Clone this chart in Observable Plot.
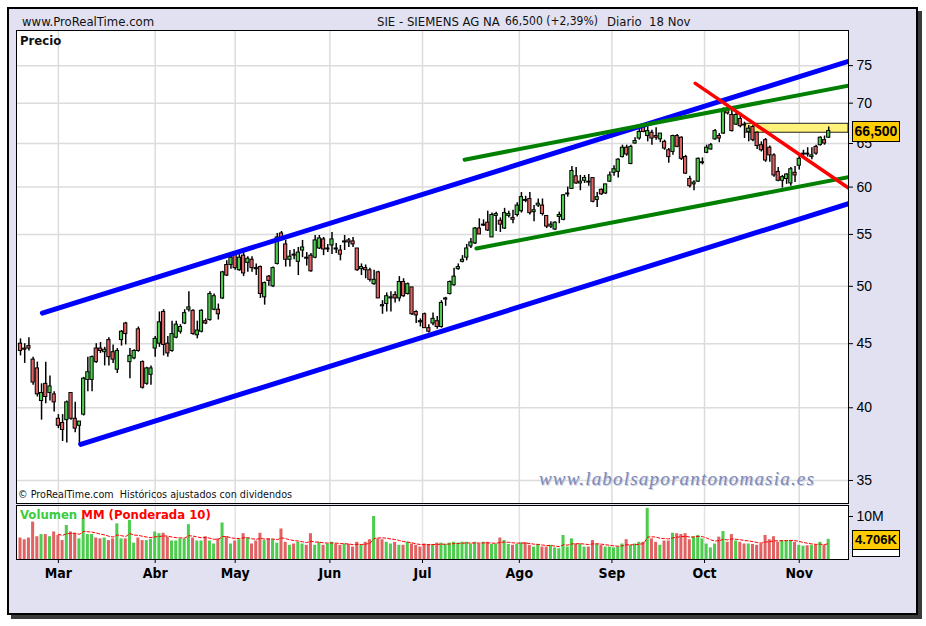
<!DOCTYPE html>
<html>
<head>
<meta charset="utf-8">
<script src="https://cdn.jsdelivr.net/npm/d3@7"></script>
<script src="https://cdn.jsdelivr.net/npm/@observablehq/plot@0.6"></script>
<style>
  html, body { margin: 0; padding: 0; background: #fff; }
  #root { position: relative; width: 926px; height: 626px; overflow: hidden; background: #fff;
          font-family: 'Liberation Sans Narrow', 'Arial Narrow', 'DejaVu Sans Condensed', 'Liberation Sans', sans-serif; }
  #frame { position: absolute; left: 7px; top: 7px; width: 907px; height: 604px; border: 2px solid #000;
           background: #e1e1f2; box-shadow: 4px 4px 0 #3a3a3a; }
  .abs { position: absolute; white-space: pre; }
  #price, #vol { position: absolute; left: 16px; }
  #price { top: 30px; }
  #vol { top: 505px; }
  svg text { font-family: 'Liberation Sans', Arial, sans-serif; }
  #vol g[aria-label="x-axis tick label"] text { font-weight: bold;
      font-family: 'Liberation Sans Narrow', 'Arial Narrow', 'DejaVu Sans Condensed', 'Liberation Sans', sans-serif; }
  .box { position: absolute; border: 1px solid #000; font-weight: bold; font-family: 'Liberation Sans', Arial, sans-serif;
         text-align: center; background: #ffcc00; }
</style>
</head>
<body>
<div id="root">
  <div id="frame"></div>
  <div class="abs" style="left:22px;top:14px;font-size:13px;color:#111">www.ProRealTime.com</div>
  <div class="abs" style="left:377px;top:14px;font-size:13px;color:#111">SIE - SIEMENS AG NA</div>
  <div class="abs" style="left:505px;top:14px;font-size:12px;color:#111">66,500 (+2,39%)</div>
  <div class="abs" style="left:607px;top:14px;font-size:13px;color:#111">Diario  18 Nov</div>
  <div id="price"></div>
  <div id="vol"></div>
  <div class="abs" style="left:20px;top:33px;font-size:13px;font-weight:bold;color:#111">Precio</div>
  <div class="abs" style="left:18px;top:488px;font-size:10.7px;color:#111">© ProRealTime.com  Históricos ajustados con dividendos</div>
  <div class="abs" style="left:539px;top:468px;font-size:19px;font-style:italic;font-family:'Liberation Serif','DejaVu Serif',serif;letter-spacing:1.2px;color:#8088b4;text-shadow:1px 1px 0 #c9cde2">www.labolsaporantonomasia.es</div>
  <div class="abs" style="left:20px;top:507px;font-size:13px;font-weight:bold"><span style="color:#3ccc3c">Volumen</span> <span style="color:#ff0000">MM (Ponderada 10)</span></div>
  <div id="lastPrice" class="box" style="left:852px;top:121px;width:46px;height:19px;line-height:19px;font-size:14px"></div>
  <div id="lastVol" class="box" style="left:852px;top:530px;width:46px;height:18px;line-height:18px;font-size:13px"></div>
  <div class="box" style="left:852px;top:549px;width:46px;height:6px;background:#fff"></div>
</div>
<script>
// ---- Daily OHLC, SIE (Siemens AG NA), Feb-Nov ----
const open  = [45.0,44.6,44.8,43.7,43.0,40.5,41.8,41.1,41.0,39.2,38.9,39.1,41.1,39.2,38.7,39.5,42.1,42.1,44.6,44.6,
               44.3,45.3,44.3,42.9,45.3,46.7,43.5,43.8,46.2,43.5,41.8,42.5,44.6,45.0,47.7,45.0,44.4,45.5,46.0,46.7,
               47.9,47.8,45.7,46.0,46.9,47.0,47.9,47.9,48.9,52.0,52.0,53.1,51.5,52.9,52.2,52.5,51.7,51.8,49.0,50.9,
               50.0,52.1,55.1,54.0,52.5,53.0,52.3,53.4,52.7,52.9,52.7,53.6,54.5,53.5,53.9,53.6,53.4,54.2,54.4,54.3,
               53.6,51.6,51.7,51.5,50.2,51.3,48.3,48.4,48.9,49.2,48.9,50.4,49.3,49.9,47.7,46.9,47.5,46.3,46.7,46.9,
               46.4,48.8,49.3,50.1,51.6,52.3,52.7,53.8,54.1,55.6,55.9,56.2,54.7,56.9,56.4,55.6,56.9,56.7,57.0,57.4,
               58.6,58.7,57.3,58.0,58.0,56.9,55.8,55.5,56.8,56.5,59.2,59.8,61.2,60.4,60.7,60.6,61.0,58.6,59.7,59.3,
               60.6,61.6,61.7,63.4,64.5,62.6,65.0,65.6,67.0,65.9,66.3,65.9,65.5,65.2,64.2,64.0,65.9,65.7,63.4,60.9,
               60.3,60.6,62.7,63.9,64.3,65.5,65.9,66.2,69.2,68.5,67.3,68.0,67.3,66.4,67.0,66.3,64.8,65.4,64.5,63.6,
               61.7,60.7,60.9,60.4,61.6,62.4,63.7,63.8,63.4,64.6,64.8,65.4,65.7];
const high  = [45.4,45.0,45.5,43.9,43.5,41.8,43.5,42.4,41.2,39.5,39.5,40.5,41.1,40.4,39.0,42.3,43.9,44.0,45.0,45.1,
               44.7,45.5,44.9,44.6,46.1,46.8,44.6,44.5,46.4,43.6,43.1,43.2,45.6,47.7,47.9,45.6,46.9,46.9,46.6,47.9,
               49.5,47.9,46.9,47.9,47.1,49.5,49.3,48.4,51.4,52.4,52.9,53.3,53.0,53.2,52.8,52.8,52.1,51.9,50.4,51.0,
               51.8,55.1,55.3,54.4,53.4,53.5,53.7,54.4,53.2,53.1,54.9,54.9,54.7,54.0,55.2,54.1,53.9,54.9,54.6,54.7,
               53.6,52.1,52.0,51.7,51.5,51.4,48.7,49.4,49.5,49.5,50.9,50.7,50.3,49.9,47.8,47.1,47.6,46.6,47.6,47.3,
               48.7,49.0,50.5,51.7,52.1,52.9,54.0,54.6,55.7,56.6,56.5,57.4,57.2,57.3,56.7,57.7,57.4,57.5,58.3,59.4,
               59.0,59.4,58.0,58.7,58.7,56.9,56.3,56.3,57.3,59.2,60.0,62.3,62.2,61.3,61.3,61.4,61.0,59.4,59.8,60.3,
               61.7,62.4,63.2,64.8,64.8,64.8,65.7,66.7,67.3,67.0,66.6,66.9,66.2,65.4,64.4,66.0,66.1,65.8,63.6,61.2,
               60.7,63.3,63.3,64.8,65.0,66.7,66.2,69.4,69.6,69.1,68.7,68.7,67.6,67.2,67.2,66.4,65.2,65.6,64.7,63.8,
               62.2,61.3,61.5,62.2,62.3,63.6,64.2,64.5,64.5,64.8,65.8,65.9,67.0];
const low   = [44.0,43.4,44.4,41.7,40.8,39.1,40.3,40.5,39.7,38.5,37.6,37.5,39.1,38.2,37.4,39.4,41.2,41.2,43.4,44.2,
               43.2,43.2,43.4,42.6,44.8,44.9,42.2,43.7,44.3,41.4,41.7,41.7,43.9,44.7,44.0,43.9,44.3,45.4,45.8,46.6,
               47.7,45.7,45.4,45.9,46.6,46.9,47.8,47.0,48.8,50.9,51.6,51.5,51.4,50.9,51.3,51.3,51.0,48.9,48.3,50.0,
               49.9,52.0,54.4,51.8,51.8,52.5,51.0,52.7,51.9,51.3,52.6,53.5,52.9,53.2,53.0,53.1,52.4,53.4,53.7,53.7,
               51.4,51.0,50.7,50.4,50.1,48.9,47.5,47.7,47.7,48.5,48.6,49.0,49.2,47.4,46.7,46.4,46.3,45.9,46.5,46.2,
               46.3,48.2,49.2,50.0,51.5,52.2,52.4,53.6,54.0,55.0,55.8,55.3,54.7,55.3,55.2,55.5,56.7,56.1,56.8,57.2,
               58.3,57.0,56.3,57.8,56.9,55.6,55.6,55.4,56.1,56.4,58.9,59.8,60.3,59.6,60.4,60.1,58.3,57.8,59.1,59.2,
               60.5,61.2,61.0,63.3,63.5,62.5,64.9,65.4,66.3,65.2,64.8,65.4,65.1,64.2,62.7,63.6,64.5,63.0,61.4,59.9,
               59.6,60.5,62.5,63.8,64.2,65.4,65.1,66.1,68.5,66.4,67.2,66.9,65.6,65.2,65.2,64.3,64.0,62.8,62.8,61.1,
               60.6,59.9,60.3,60.1,60.5,61.9,63.4,63.4,63.1,63.6,64.7,64.8,65.6];
const close = [44.4,44.5,44.6,41.9,41.0,41.1,40.8,41.6,40.4,38.7,38.4,40.4,39.2,38.5,39.0,42.2,42.7,43.9,43.5,44.4,
               44.5,43.9,43.7,44.4,46.0,45.8,44.0,44.4,44.4,41.5,43.0,43.0,45.4,46.8,44.9,44.2,45.8,46.6,46.4,47.6,
               48.1,45.8,46.1,47.8,46.7,49.3,49.1,47.5,51.3,51.0,52.7,51.7,52.7,51.2,52.6,51.7,51.6,49.3,50.3,50.5,
               51.7,54.7,54.6,52.5,52.8,52.9,53.2,53.7,52.6,51.4,54.4,54.6,53.5,53.6,54.5,53.5,53.0,54.3,54.2,54.0,
               51.5,51.8,51.5,50.6,50.6,48.9,48.2,49.1,49.0,48.9,50.4,49.1,50.2,47.5,47.4,46.8,46.3,46.0,47.1,46.4,
               48.5,48.9,50.4,50.9,51.8,52.5,53.6,54.2,55.6,55.0,56.0,55.4,57.0,57.1,56.0,57.2,57.1,56.5,58.0,58.9,
               58.5,57.2,57.5,58.2,57.1,55.8,56.0,56.2,57.0,59.1,59.3,61.8,60.4,60.6,61.0,60.5,58.4,58.9,59.2,60.3,
               61.3,62.0,63.1,64.5,63.7,64.6,65.3,66.4,66.4,66.5,65.6,65.7,66.2,64.4,63.4,65.9,64.6,63.2,61.5,60.1,
               60.5,63.2,62.8,64.5,64.8,66.5,65.6,69.1,68.7,66.5,68.5,67.1,67.2,66.8,65.4,64.7,64.2,63.0,63.6,61.3,
               60.7,61.1,61.4,62.0,61.3,63.2,63.8,63.7,63.6,63.8,65.7,65.0,66.5];
// Volume in millions of shares
const volume = [5.0,4.6,5.0,8.7,5.3,5.8,5.8,5.3,6.4,5.6,4.4,7.9,6.4,6.1,4.8,9.5,5.8,5.8,5.0,4.8,
                5.0,4.4,4.8,8.3,4.8,4.8,9.1,3.8,5.0,4.4,4.4,4.7,6.4,6.0,6.1,5.2,4.3,4.3,4.8,4.8,
                8.1,5.0,4.3,4.3,5.3,4.3,3.6,4.8,8.5,5.3,3.6,4.3,4.6,6.0,5.0,3.6,4.3,6.1,4.4,4.8,
                4.6,3.8,7.1,4.0,3.3,3.6,4.0,3.6,3.3,6.0,3.3,4.0,3.3,3.6,4.0,3.6,3.3,3.6,3.5,2.9,
                4.0,3.3,4.0,4.6,10.0,4.8,4.6,4.0,3.6,4.0,3.3,3.3,4.0,3.6,3.3,2.9,3.6,3.5,3.5,3.8,
                3.8,3.5,3.8,4.0,3.8,4.0,4.0,3.6,4.0,3.6,4.0,4.0,3.5,3.6,5.0,4.4,3.5,3.3,3.5,3.9,
                3.9,3.3,2.9,3.5,2.9,2.9,3.3,2.7,2.5,5.6,2.9,4.8,3.6,3.6,2.9,2.9,4.4,3.6,3.3,2.9,
                2.9,2.7,2.9,3.6,4.6,3.3,3.6,4.0,4.0,11.9,4.8,4.0,3.3,4.3,4.3,6.1,6.0,5.8,6.0,4.6,
                5.2,5.6,4.8,3.6,2.7,3.6,5.2,6.5,4.0,5.8,4.3,4.0,3.6,3.6,3.5,3.3,3.6,5.6,4.6,5.3,
                4.0,4.4,4.3,4.4,4.0,3.3,3.1,3.2,3.3,3.3,4.0,3.3,4.706];
// Axis ticks and labels
const priceTicks = [35, 40, 45, 50, 55, 60, 65, 70, 75];
const volTicks = [10];
const monthTicks = [9, 32, 51, 73.5, 95.5, 118.5, 140.5, 162.5, 185];
const monthLabels = ["Mar", "Abr", "May", "Jun", "Jul", "Ago", "Sep", "Oct", "Nov"];
// Drawn trend lines: [trading-day index, price]
const blueUpper  = [[5.2, 47.6], [196.7, 75.6]];
const blueLower  = [[14.3, 37.4], [196.7, 58.2]];
const greenUpper = [[105.5, 63.1], [196.7, 72.3]];
const greenLower = [[108.3, 53.6], [196.7, 61.1]];
const redLine    = [[160.3, 72.6], [196.7, 59.9]];
// Highlighted price zone: [fromIndex, toIndex, lowPrice, highPrice]
const zone = [[172.2, 196.7, 66.3, 67.4]];

const xDomain = [-0.95, 196.7];
const GREEN = "#4dcc4d", RED = "#e06262";
const bars = close.map((c, i) => ({i, o: open[i], h: high[i], l: low[i], c, v: volume[i], up: c >= open[i]}));
// weighted moving average (10) of volume
const wma = [];
for (let i = 9; i < volume.length; i++) {
  let s = 0;
  for (let k = 0; k < 10; k++) s += (10 - k) * volume[i - k];
  wma.push({i, m: s / 55});
}
const lineOpts = (stroke, w) => ({x: d => d[0], y: d => d[1], stroke, strokeWidth: w, clip: true});

const priceChart = Plot.plot({
  width: 895, height: 473,
  marginLeft: 0, marginRight: 63, marginTop: 0, marginBottom: 0,
  style: {background: "transparent", overflow: "visible", color: "#000"},
  x: {domain: xDomain, axis: null, label: null},
  y: {type: "log", domain: [33.55, 80], label: null},
  color: {type: "identity"},
  marks: [
    Plot.frame({fill: "#fff", stroke: null}),
    Plot.ruleX(monthTicks, {stroke: "#dcdcdc", strokeWidth: 1.5}),
    Plot.ruleY(priceTicks, {stroke: "#dcdcdc", strokeWidth: 1.5}),
    Plot.rect(zone, {x1: d => d[0], x2: d => d[1], y1: d => d[2], y2: d => d[3], fill: "#fff27a", stroke: "#222", strokeWidth: 1}),
    Plot.ruleX(bars, {x: "i", y1: "l", y2: "h", stroke: "#000", strokeWidth: 1.5}),
    Plot.rect(bars, {x1: d => d.i - 0.38, x2: d => d.i + 0.38, y1: "o", y2: "c",
                     fill: d => d.up ? GREEN : RED, stroke: "#000", strokeWidth: 1}),
    Plot.line(blueUpper, lineOpts("#0000ff", 5)),
    Plot.line(blueLower, lineOpts("#0000ff", 5)),
    Plot.line(greenUpper, lineOpts("#008000", 4)),
    Plot.line(greenLower, lineOpts("#008000", 4)),
    Plot.line(redLine, lineOpts("#ff0000", 3.5)),
    Plot.frame({stroke: "#000", strokeWidth: 1}),
    Plot.axisY(priceTicks, {anchor: "right", tickSize: 4, tickPadding: 4, tickFormat: d => String(d), fontSize: 14, label: null})
  ]
});
document.getElementById("price").appendChild(priceChart);

const volChart = Plot.plot({
  width: 895, height: 86,
  marginLeft: 0, marginRight: 63, marginTop: 0, marginBottom: 32,
  style: {background: "transparent", overflow: "visible", color: "#000"},
  x: {domain: xDomain, label: null},
  y: {domain: [0, 12.56], label: null},
  color: {type: "identity"},
  marks: [
    Plot.frame({fill: "#fff", stroke: null}),
    Plot.ruleX(monthTicks, {stroke: "#e2e2e2", strokeWidth: 1.5}),
    Plot.rect(bars, {x1: d => d.i - 0.36, x2: d => d.i + 0.36, y1: 0, y2: "v", fill: d => d.up ? GREEN : RED}),
    Plot.line(wma, {x: "i", y: "m", stroke: "#ff0000", strokeWidth: 1, strokeDasharray: "3,2"}),
    Plot.frame({stroke: "#000", strokeWidth: 1}),
    Plot.axisY(volTicks, {anchor: "right", tickSize: 4, tickPadding: 4, tickFormat: d => d + "M", fontSize: 14, label: null}),
    Plot.axisX(monthTicks, {anchor: "bottom", tickSize: 4, tickPadding: 5, fontSize: 14, label: null,
                            tickFormat: d => monthLabels[monthTicks.indexOf(d)]})
  ]
});
document.getElementById("vol").appendChild(volChart);

document.getElementById("lastPrice").textContent = close[close.length - 1].toFixed(3).replace(".", ",");
document.getElementById("lastVol").textContent = volume[volume.length - 1].toFixed(3) + "K";
</script>
</body>
</html>
